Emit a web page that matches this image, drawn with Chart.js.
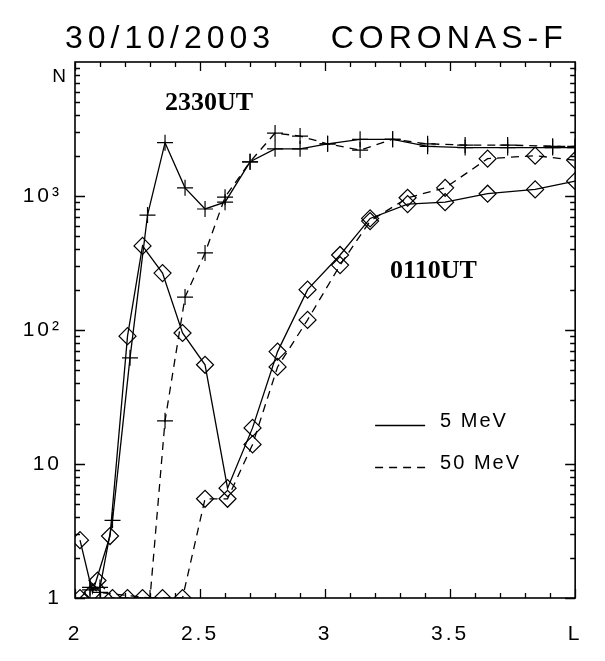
<!DOCTYPE html>
<html>
<head>
<meta charset="utf-8">
<script src="https://cdn.jsdelivr.net/npm/chart.js@4.4.0/dist/chart.umd.min.js"></script>
<style>
  html, body { margin: 0; padding: 0; background: #fff; }
  #wrap { width: 605px; height: 661px; position: relative; }
</style>
</head>
<body>
<div id="wrap"><canvas id="c"></canvas></div>
<script>
// ---- data ----
const titleText = "30/10/2003    CORONAS-F";
const xTickValues = [2, 2.5, 3, 3.5, 4];
const xTickLabels = ["2", "2.5", "3", "3.5", "L"];
const yTickValues = [1, 10, 100, 1000];
const yTickLabels = ["1", "10", "10\u00B2", "10\u00B3"];
const yAxisLabel = "N";

// 2330UT, 5 MeV (solid, plus markers)
const ut2330_5_L = [2.06, 2.10, 2.15, 2.22, 2.29, 2.36, 2.44, 2.52, 2.60, 2.70, 2.80, 2.90, 3.01, 3.14, 3.27, 3.41, 3.56, 3.73, 3.91, 4.00];
const ut2330_5_N = [1.15, 1.2, 3.8, 62, 720, 2500, 1150, 800, 900, 1800, 2250, 2250, 2450, 2650, 2650, 2350, 2300, 2300, 2300, 2300];

// 2330UT, 50 MeV (dashed, plus markers)
const ut2330_50_L = [2.06, 2.10, 2.30, 2.36, 2.44, 2.52, 2.60, 2.70, 2.80, 2.90, 3.01, 3.14, 3.27, 3.41, 3.56, 3.73, 3.91, 4.00];
const ut2330_50_N = [1.2, 1.1, 1, 21, 176, 376, 980, 1800, 2950, 2800, 2450, 2200, 2650, 2450, 2400, 2400, 2350, 2350];

// 0110UT, 5 MeV (solid, diamond markers)
const ut0110_5_L = [2.02, 2.07, 2.14, 2.21, 2.27, 2.35, 2.43, 2.52, 2.61, 2.71, 2.81, 2.93, 3.06, 3.18, 3.33, 3.48, 3.65, 3.84, 4.00];
const ut0110_5_N = [2.7, 1.1, 2.9, 90, 424, 266, 95, 55, 6.6, 18.6, 69, 200, 363, 680, 870, 900, 1040, 1120, 1290];

// 0110UT, 50 MeV (dashed, diamond markers)
const ut0110_50_L = [2.02, 2.09, 2.15, 2.21, 2.27, 2.35, 2.43, 2.52, 2.61, 2.71, 2.81, 2.93, 3.06, 3.18, 3.33, 3.48, 3.65, 3.84, 4.00];
const ut0110_50_N = [1, 1.35, 1, 1, 1, 1, 1, 5.5, 5.5, 14, 53, 119, 305, 650, 970, 1150, 1900, 2000, 1850];

// text annotations anchored in data coordinates
const annotations = [
  { text: "2330UT", L: 2.36, N: 4400 },
  { text: "0110UT", L: 3.26, N: 245 }
];
const legendItems = [
  { text: "5 MeV", dash: [], N: 19.5 },
  { text: "50 MeV", dash: [8, 6], N: 9.5 }
];
const legendL = [3.2, 3.4];

// ---- build ----
function pts(xs, ys) { return xs.map((x, i) => ({ x: x, y: ys[i] })); }

const DASH = [8, 6];
function ds(label, xs, ys, style, dashed) {
  return {
    label: label,
    data: pts(xs, ys),
    showLine: true,
    borderColor: '#000',
    backgroundColor: 'rgba(0,0,0,0)',
    borderWidth: 1.3,
    borderDash: dashed ? DASH : [],
    pointStyle: style,
    pointRadius: style === 'cross' ? 8 : 8.5,
    pointBorderColor: '#000',
    pointBackgroundColor: 'rgba(0,0,0,0)',
    pointBorderWidth: 1.2,
    tension: 0,
    clip: 0
  };
}

const FONT = "'Liberation Sans', 'DejaVu Sans', sans-serif";

const decorPlugin = {
  id: 'decor',
  beforeDraw(chart) {
    const ctx = chart.ctx;
    ctx.save();
    ctx.fillStyle = '#fff';
    ctx.fillRect(0, 0, chart.width, chart.height);
    ctx.restore();
    ctx.letterSpacing = '3px';
  },
  afterDraw(chart) {
    const ctx = chart.ctx;
    const ca = chart.chartArea;
    const xs = chart.scales.x, ys = chart.scales.y;
    ctx.save();
    ctx.letterSpacing = '0px';
    ctx.strokeStyle = '#000';
    ctx.lineWidth = 1.6;
    ctx.setLineDash([]);
    ctx.strokeRect(ca.left, ca.top, ca.right - ca.left, ca.bottom - ca.top);

    // x ticks (bottom and top, inward)
    ctx.lineWidth = 1.3;
    for (let i = 0; i <= 20; i++) {
      const v = 2 + i * 0.1;
      const px = Math.round(xs.getPixelForValue(v)) + 0.5;
      const len = (i % 5 === 0) ? 9 : 5;
      ctx.beginPath();
      ctx.moveTo(px, ca.bottom); ctx.lineTo(px, ca.bottom - len);
      ctx.moveTo(px, ca.top); ctx.lineTo(px, ca.top + len);
      ctx.stroke();
    }
    // y ticks (left and right, inward)
    for (let d = 0; d <= 3; d++) {
      for (let m = 1; m <= 9; m++) {
        const v = m * Math.pow(10, d);
        const py = Math.round(ys.getPixelForValue(v)) + 0.5;
        const len = (m === 1) ? 10 : 5;
        ctx.beginPath();
        ctx.moveTo(ca.left, py); ctx.lineTo(ca.left + len, py);
        ctx.moveTo(ca.right, py); ctx.lineTo(ca.right - len, py);
        ctx.stroke();
      }
    }

    // title
    ctx.fillStyle = '#000';
    ctx.font = "32px " + FONT;
    ctx.letterSpacing = '5px';
    ctx.textAlign = 'left';
    ctx.textBaseline = 'alphabetic';
    ctx.fillText(titleText, 65, 48);

    // y axis name
    ctx.letterSpacing = '1px';
    ctx.font = "19px " + FONT;
    ctx.textAlign = 'right';
    ctx.fillText(yAxisLabel, ca.left - 8, ca.top + 20);

    // annotations
    ctx.letterSpacing = '0px';
    ctx.font = "bold 26px 'Liberation Serif', 'DejaVu Serif', serif";
    ctx.textAlign = 'left';
    annotations.forEach(a => {
      ctx.fillText(a.text, xs.getPixelForValue(a.L), ys.getPixelForValue(a.N));
    });

    // legend
    ctx.font = "20px " + FONT;
    ctx.letterSpacing = '2px';
    ctx.textBaseline = 'middle';
    ctx.lineWidth = 1.3;
    legendItems.forEach(it => {
      const py = Math.round(ys.getPixelForValue(it.N)) + 0.5;
      ctx.setLineDash(it.dash);
      ctx.beginPath();
      ctx.moveTo(xs.getPixelForValue(legendL[0]), py);
      ctx.lineTo(xs.getPixelForValue(legendL[1]), py);
      ctx.stroke();
      ctx.setLineDash([]);
      ctx.fillText(it.text, xs.getPixelForValue(legendL[1]) + 15, py - 4);
    });
    ctx.restore();
    ctx.letterSpacing = '0px';
  }
};

new Chart(document.getElementById('c'), {
  type: 'scatter',
  data: {
    datasets: [
      ds('2330UT 5 MeV', ut2330_5_L, ut2330_5_N, 'cross', false),
      ds('2330UT 50 MeV', ut2330_50_L, ut2330_50_N, 'cross', true),
      ds('0110UT 5 MeV', ut0110_5_L, ut0110_5_N, 'rectRot', false),
      ds('0110UT 50 MeV', ut0110_50_L, ut0110_50_N, 'rectRot', true)
    ]
  },
  options: {
    responsive: true,
    maintainAspectRatio: false,
    animation: false,
    layout: { padding: { top: 62, right: 28, left: 0, bottom: 0 } },
    plugins: {
      legend: { display: false },
      title: { display: false },
      tooltip: { enabled: false }
    },
    scales: {
      x: {
        type: 'linear',
        min: 2, max: 4,
        afterBuildTicks(scale) { scale.ticks = xTickValues.map(v => ({ value: v })); },
        afterFit(scale) { scale.height = 63; },
        grid: { display: false, drawTicks: false },
        border: { display: false },
        ticks: {
          padding: 24,
          color: '#000',
          font: { family: FONT, size: 21 },
          maxRotation: 0,
          autoSkip: false,
          callback(v) { const i = xTickValues.indexOf(v); return i >= 0 ? xTickLabels[i] : ''; }
        }
      },
      y: {
        type: 'logarithmic',
        min: 1, max: 10000,
        afterBuildTicks(scale) { scale.ticks = yTickValues.map(v => ({ value: v })); },
        afterFit(scale) { scale.width = 75; },
        grid: { display: false, drawTicks: false },
        border: { display: false },
        ticks: {
          padding: 13,
          color: '#000',
          font: { family: FONT, size: 21 },
          autoSkip: false,
          callback(v) { const i = yTickValues.indexOf(v); return i >= 0 ? yTickLabels[i] : ''; }
        }
      }
    }
  },
  plugins: [decorPlugin]
});
</script>
</body>
</html>
